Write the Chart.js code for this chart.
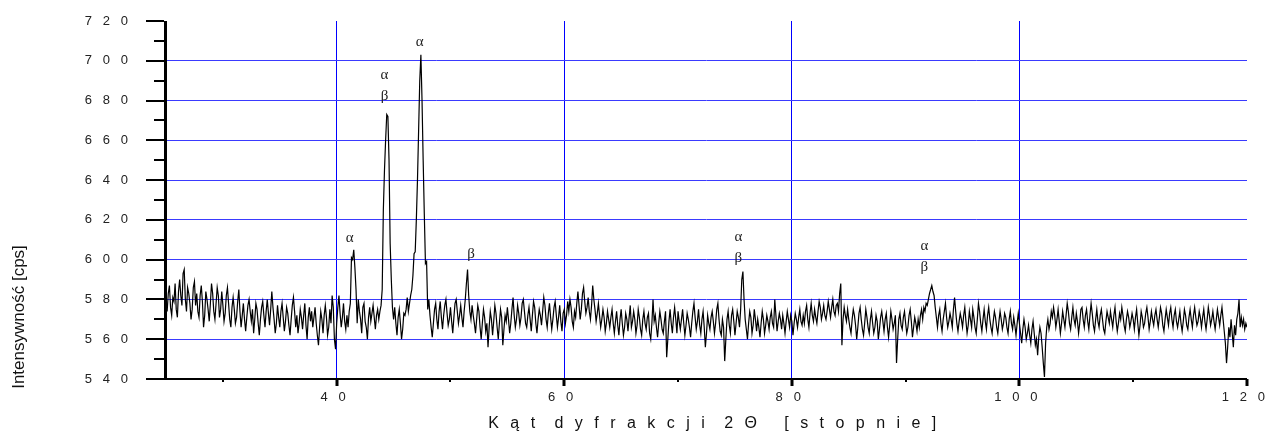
<!DOCTYPE html>
<html>
<head>
<meta charset="utf-8">
<script src="https://cdn.jsdelivr.net/npm/chart.js@4.4.1/dist/chart.umd.min.js"></script>
<style>
html,body{margin:0;padding:0;background:#fff;}
#wrap{width:1265px;height:435px;}
</style>
</head>
<body>
<div id="wrap"><canvas id="c" width="1265" height="435"></canvas></div>
<script>
// ---- data ----
const angleStart = 25.0;   // 2Θ of first sample [deg]
const angleStep = 0.1;     // sampling step [deg]
const intensity = [
580,574,583,587,576,572,581,579,588,575,
571,584,590,582,577,593,595,580,574,586,
583,578,570,575,586,589,577,583,574,571,
582,587,579,566,572,584,580,575,569,578,
588,583,574,570,578,586,582,571,575,584,
577,569,573,582,586,578,570,566,576,581,
575,568,571,579,585,574,566,572,578,570,
564,571,577,580,574,569,575,563,570,578,
575,568,562,570,576,579,572,566,574,580,
573,567,575,584,576,570,563,568,577,571,
566,574,578,571,564,569,576,573,567,562,
570,577,581,574,566,572,563,568,575,571,
565,572,578,567,560,571,576,569,574,566,
571,576,568,562,557,566,574,570,563,572,
577,571,562,566,575,568,582,576,560,555,
568,576,582,573,566,571,578,569,565,572,
566,574,578,601,600,605,596,585,568,580,
574,570,563,576,578,569,566,560,571,576,
569,573,577,571,565,572,575,570,574,577,
585,625,645,660,673,672,650,608,590,576,
570,576,568,562,571,575,568,560,565,573,
572,575,581,574,578,582,585,592,603,604,
620,640,665,690,703,680,650,623,598,599,
575,580,572,566,561,568,575,578,570,565,
574,579,571,565,572,577,580,573,567,570,
576,569,563,571,578,580,574,568,572,577,
571,566,574,580,588,595,582,574,570,577,
572,568,563,570,577,574,566,560,568,575,
571,564,568,556,566,574,570,562,569,577,
573,566,560,568,575,571,557,565,572,569,
576,570,563,568,575,581,572,566,570,577,
573,567,571,578,580,574,568,566,572,576,
570,564,572,579,576,568,563,570,575,572,
567,574,581,577,570,566,573,578,571,565,
570,576,579,572,566,571,577,569,564,573,
575,568,572,579,574,580,576,569,566,574,
571,578,584,577,570,575,583,586,579,573,
576,581,574,570,577,587,580,575,569,573,
578,572,566,570,575,571,564,568,574,570,
566,571,575,568,563,569,574,567,562,570,
575,568,562,566,573,570,564,571,577,566,
569,574,570,563,567,575,571,565,562,570,
574,568,565,571,573,563,560,568,580,569,
572,566,561,568,574,570,565,563,569,574,
551,560,569,575,568,563,571,576,570,563,
574,569,565,570,575,568,562,567,573,570,
566,561,568,574,578,571,565,569,575,567,
563,570,574,566,556,563,572,568,565,571,
574,569,563,568,575,578,570,564,562,570,
566,549,560,570,574,567,563,572,575,569,
562,568,574,571,566,575,590,594,580,570,
565,560,568,574,571,563,567,575,570,564,
570,566,561,568,574,570,563,567,572,569,
565,571,574,568,566,580,572,564,569,573,
570,565,572,568,563,569,574,570,566,572,
569,562,568,573,570,566,571,575,569,567,
572,568,574,577,570,566,573,578,572,569,
575,571,568,574,579,576,570,573,577,572,
570,574,579,575,571,576,580,574,572,577,
578,574,583,588,557,570,576,572,569,575,
570,566,563,570,575,572,567,560,566,573,
576,570,565,562,568,575,571,566,563,570,
574,568,563,566,572,569,560,565,571,574,
569,564,570,573,566,561,567,574,570,565,
568,572,548,560,570,573,567,565,571,574,
568,563,566,572,575,569,561,566,571,568,
564,570,566,572,575,570,576,574,578,577,
580,583,585,587,584,582,576,571,566,572,
575,568,564,570,574,578,571,566,569,573,
570,566,575,581,574,568,564,569,573,570,
566,572,576,569,563,567,574,570,566,575,
571,566,563,570,578,574,568,564,570,575,
569,565,572,576,570,566,563,569,574,571,
566,563,569,574,570,565,568,573,571,566,
563,570,574,568,565,571,567,562,568,573,
568,563,558,565,570,566,560,563,567,562,
558,565,569,563,557,560,552,561,566,563,
556,548,541,558,566,570,565,568,574,571,
576,572,566,570,575,569,563,568,574,570,
566,572,578,574,568,565,571,576,570,567,
573,569,563,568,575,576,570,566,572,575,
569,565,572,578,573,567,564,570,575,569,
566,572,575,570,565,563,569,574,571,568,
574,570,566,572,576,569,564,568,573,570,
576,572,567,564,570,574,571,566,569,573,
570,565,571,575,568,562,567,574,571,566,
568,573,576,571,565,569,574,570,567,572,
575,570,566,571,576,573,567,564,570,575,
571,567,573,576,570,566,572,575,569,566,
570,574,568,564,569,575,572,567,565,571,
575,570,566,572,576,571,567,569,574,571,
566,571,575,569,565,570,576,572,567,570,
574,569,565,570,575,571,567,572,576,570,
564,558,548,556,566,561,570,563,556,567,
562,570,573,580,566,571,567,570,565,568,
566
];
const xTickLabels = [40, 60, 80, 100, 120];
const yTickLabels = [540, 560, 580, 600, 620, 640, 660, 680, 700, 720];
const peakLabels = ['α', 'α', 'β', 'α', 'β', 'α', 'β', 'α', 'β'];
const peakLabelAngle = [41.15, 44.2, 44.2, 47.3, 51.8, 75.3, 75.3, 91.65, 91.65];
const peakLabelLevel = [611, 693, 682.5, 709.5, 603, 611.5, 601, 607, 596.5];
const xTitle = 'K ą t  d y f r a k c j i  2 Θ   [ s t o p n i e ]';
const yTitle = 'Intensywność [cps]';

// ---- build points ----
const points = intensity.map((v, i) => ({x: +(angleStart + i * angleStep).toFixed(2), y: v}));
const spaced = v => String(v).split('').join('   ');

const decorations = {
  id: 'decorations',
  afterDatasetsDraw(chart) {
    const {ctx, chartArea: a, scales: {x, y}} = chart;
    ctx.save();
    ctx.fillStyle = '#000';
    // left axis
    ctx.fillRect(a.left - 2, a.top, 3, a.bottom - a.top + 1);
    // bottom axis
    ctx.fillRect(a.left - 2, a.bottom - 1, a.right - a.left + 2, 2);
    // y ticks
    for (let v = y.min; v <= y.max; v += 10) {
      const py = Math.round(y.getPixelForValue(v));
      const major = yTickLabels.includes(v);
      const len = major ? 18 : 10;
      ctx.fillRect(a.left - 2 - len, py - 1, len, 2);
    }
    // x ticks
    for (let v = 30; v <= x.max; v += 10) {
      const px = Math.round(x.getPixelForValue(v));
      if (xTickLabels.includes(v)) ctx.fillRect(px - 1.5, a.bottom, 3, 7);
      else ctx.fillRect(px - 1, a.bottom, 2, 3);
    }
    // peak labels
    ctx.fillStyle = '#222';
    ctx.font = '15px "Liberation Serif", serif';
    ctx.textAlign = 'center';
    ctx.textBaseline = 'middle';
    peakLabels.forEach((t, i) => {
      ctx.fillText(t, x.getPixelForValue(peakLabelAngle[i]), y.getPixelForValue(peakLabelLevel[i]));
    });
    // x title
    ctx.fillStyle = '#111';
    ctx.font = '16px "Liberation Sans", Arial, sans-serif';
    ctx.letterSpacing = '3.5px';
    ctx.textAlign = 'center';
    ctx.fillText(xTitle, 714, 424);
    // y title
    ctx.letterSpacing = '0px';
    ctx.font = '17px "Liberation Sans", Arial, sans-serif';
    ctx.translate(19, 317);
    ctx.rotate(-Math.PI / 2);
    ctx.fillText(yTitle, 0, 0);
    ctx.restore();
  }
};

function noOverhang(s) {
  s.paddingTop = 0; s.paddingBottom = 0; s.paddingLeft = 0; s.paddingRight = 0;
}

new Chart(document.getElementById('c'), {
  type: 'line',
  data: {
    datasets: [{
      data: points,
      borderColor: '#000',
      borderWidth: 1.2,
      pointRadius: 0,
      tension: 0,
      fill: false
    }]
  },
  options: {
    responsive: false,
    animation: false,
    devicePixelRatio: 1,
    parsing: false,
    layout: {padding: {left: 0, top: 21, right: 18, bottom: 0}},
    plugins: {legend: {display: false}, tooltip: {enabled: false}},
    scales: {
      x: {
        type: 'linear',
        min: 25, max: 120,
        afterFit(s) { s.height = 56; noOverhang(s); },
        border: {display: false},
        grid: {
          drawTicks: false,
          lineWidth: 1,
          color: c => (c.tick && [40, 60, 80, 100].includes(c.tick.value)) ? '#0000ff' : 'rgba(0,0,0,0)'
        },
        ticks: {
          stepSize: 10,
          autoSkip: false,
          maxRotation: 0,
          padding: 11,
          color: '#222',
          font: {family: '"Liberation Sans", Arial, sans-serif', size: 13},
          callback: v => xTickLabels.includes(v) ? spaced(v) + '  ' : ''
        }
      },
      y: {
        min: 540, max: 720,
        afterFit(s) { s.width = 166; noOverhang(s); },
        border: {display: false},
        grid: {
          drawTicks: false,
          lineWidth: 1,
          color: c => (c.tick && c.tick.value >= 560 && c.tick.value <= 700 && c.tick.value % 20 === 0) ? '#3a3aff' : 'rgba(0,0,0,0)'
        },
        ticks: {
          stepSize: 10,
          autoSkip: false,
          padding: 38,
          color: '#222',
          font: {family: '"Liberation Sans", Arial, sans-serif', size: 13},
          callback: v => yTickLabels.includes(v) ? spaced(v) : ''
        }
      }
    }
  },
  plugins: [decorations]
});
</script>
</body>
</html>
